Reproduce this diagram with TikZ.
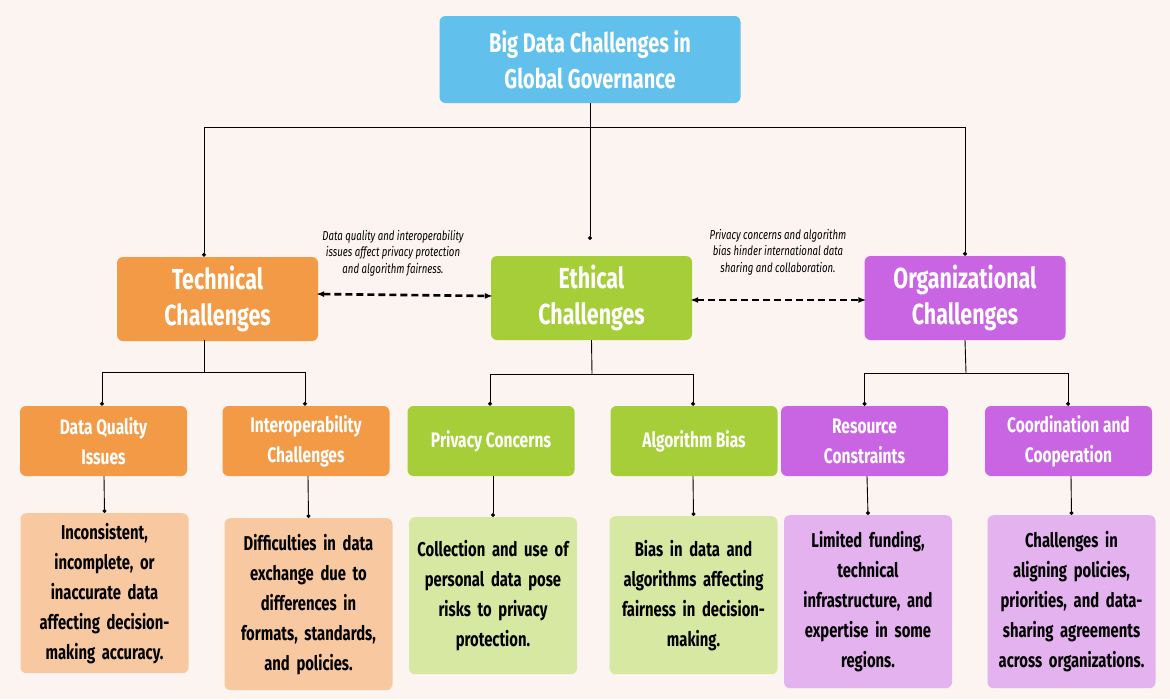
\documentclass[tikz,border=0pt]{standalone}
\usepackage{fontspec}
\setmainfont{Fira Sans}[FakeStretch=0.74]
\usetikzlibrary{arrows.meta}
\definecolor{bgpink}{HTML}{FCF4F1}
\definecolor{topblue}{HTML}{62C1EC}
\definecolor{techorange}{HTML}{F39A46}
\definecolor{ethgreen}{HTML}{A5CE39}
\definecolor{orgpurple}{HTML}{C965E3}
\definecolor{lightorange}{HTML}{F8C9A0}
\definecolor{lightgreen}{HTML}{D7E8A2}
\definecolor{lightpurple}{HTML}{E4B2EE}
\tikzset{
  box/.style={rounded corners=6pt, align=center, inner sep=2pt},
  mainbox/.style={box, text=white, font=\fontsize{29}{36}\selectfont\bfseries, minimum width=201pt, minimum height=84pt},
  subbox/.style={box, text=white, font=\fontsize{21}{30}\selectfont\bfseries, minimum width=167pt, minimum height=70pt},
  descbox/.style={box, text=black, font=\fontsize{20}{30}\selectfont\bfseries, text width=164pt},
  link/.style={line width=0.9pt, -{Circle[length=4pt]}},
  relate/.style={line width=2.6pt, dashed, dash pattern=on 7pt off 4pt, {Latex[length=8pt]}-{Latex[length=8pt]}},
  note/.style={font=\fontsize{13}{16.5}\selectfont\itshape, align=center}
}
\begin{document}
\begin{tikzpicture}[x=1pt, y=-1pt]
  % Background
  \fill[bgpink] (0,0) rectangle (1170,699);

  % Root
  \node[box, fill=topblue, text=white, font=\fontsize{27}{36}\selectfont\bfseries, minimum width=301pt, minimum height=87pt] (root) at (590,59.5) {Big Data Challenges in\\Global Governance};

  % Main branches
  \node[mainbox, fill=techorange] (tech) at (217.5,299) {Technical\\Challenges};
  \node[mainbox, fill=ethgreen] (eth) at (591.5,298) {Ethical\\Challenges};
  \node[mainbox, fill=orgpurple] (org) at (965,298) {Organizational\\Challenges};

  % Sub branches
  \node[subbox, fill=techorange] (dq) at (103.5,441) {Data Quality\\Issues};
  \node[subbox, fill=techorange] (iop) at (306,441) {Interoperability\\Challenges};
  \node[subbox, fill=ethgreen] (priv) at (491,441) {Privacy Concerns};
  \node[subbox, fill=ethgreen] (algo) at (694,441) {Algorithm Bias};
  \node[subbox, fill=orgpurple] (res) at (864.5,441) {Resource\\Constraints};
  \node[subbox, fill=orgpurple] (coord) at (1068.5,441) {Coordination and\\Cooperation};

  % Descriptions
  \node[descbox, fill=lightorange, minimum height=160pt, anchor=north] (dqd) at (104.5,513) {Inconsistent,\\incomplete, or\\inaccurate data\\affecting decision-\\making accuracy.};
  \node[descbox, fill=lightorange, minimum height=172pt, anchor=north] (iopd) at (308.5,518) {Difficulties in data\\exchange due to\\differences in\\formats, standards,\\and policies.};
  \node[descbox, fill=lightgreen, minimum height=157pt, anchor=north] (privd) at (493,517) {Collection and use of\\personal data pose\\risks to privacy\\protection.\\[1.2em]};
  \node[descbox, fill=lightgreen, minimum height=158pt, anchor=north] (algod) at (693.5,516) {Bias in data and\\algorithms affecting\\fairness in decision-\\making.\\[1.2em]};
  \node[descbox, fill=lightpurple, minimum height=173pt, anchor=north] (resd) at (868,515) {Limited funding,\\technical\\infrastructure, and\\expertise in some\\regions.};
  \node[descbox, fill=lightpurple, minimum height=173pt, anchor=north] (coordd) at (1071.5,515) {Challenges in\\aligning policies,\\priorities, and data-\\sharing agreements\\across organizations.};

  % Root connectors
  \coordinate (rootbar) at (590,127);
  \draw[link] (root.south) -- (590,240);
  \draw[link] (root.south |- rootbar) -| (tech.north -| 204,0);
  \draw[link] (root.south |- rootbar) -| (org.north);

  % Branch connectors
  \draw[line width=0.9pt] (204,340) -- (204,372);
  \draw[link] (204,372) -| (dq.north -| 102,0);
  \draw[link] (204,372) -| (iop.north -| 305,0);
  \draw[line width=0.9pt] (eth.south) -- (592,374);
  \draw[link] (592,374) -| (priv.north -| 490,0);
  \draw[link] (592,374) -| (algo.north -| 693,0);
  \draw[line width=0.9pt] (org.south) -- (966,373);
  \draw[link] (966,373) -| (res.north);
  \draw[link] (966,373) -| (coord.north -| 1068,0);

  % Sub to description
  \draw[link] (dq.south -| 104,0) -- (dqd.north);
  \draw[link] (iop.south -| 308,0) -- (iopd.north);
  \draw[link] (priv.south -| 493,0) -- (privd.north);
  \draw[link] (algo.south -| 693,0) -- (algod.north);
  \draw[link] (res.south -| 867,0) -- (resd.north);
  \draw[link] (coord.south -| 1071,0) -- (coordd.north);

  % Cross relations
  \draw[relate] ([xshift=-2pt]tech.east |- 0,294) -- ([xshift=2pt]eth.west |- 0,296);
  \draw[relate] ([xshift=-2pt]eth.east |- 0,300) -- ([xshift=2pt]org.west |- 0,300);
  \node[note] (note1) at (393,253) {Data quality and interoperability\\issues affect privacy protection\\and algorithm fairness.};
  \node[note] (note2) at (778,252) {Privacy concerns and algorithm\\bias hinder international data\\sharing and collaboration.};
\end{tikzpicture}
\end{document}
